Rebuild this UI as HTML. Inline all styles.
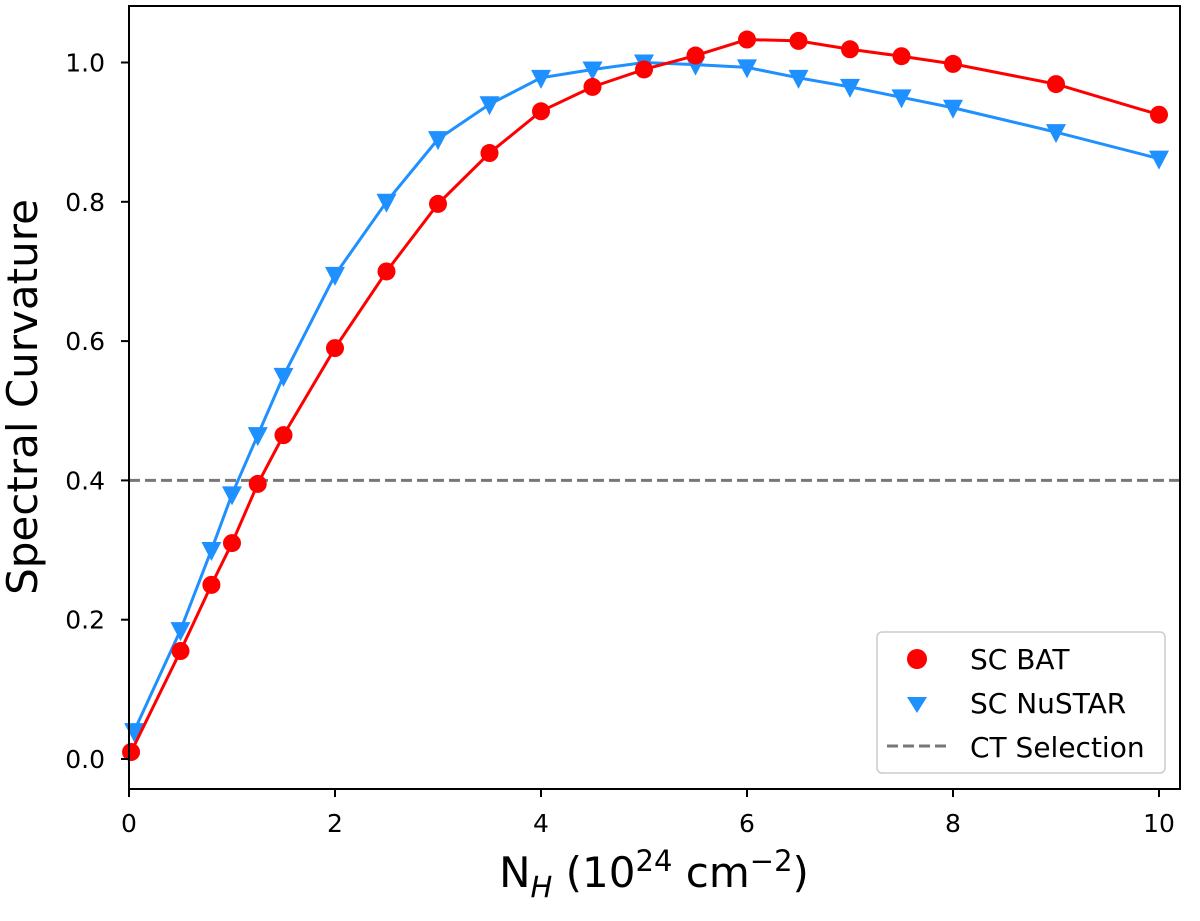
<!DOCTYPE html>
<html><head><meta charset="utf-8"><style>
body{margin:0;background:#fff}
svg text{font-family:"DejaVu Sans","Liberation Sans",sans-serif;fill:#000}
</style></head><body>
<svg id="c" width="1200" height="916" xmlns="http://www.w3.org/2000/svg"></svg>
<script>
const batX=[0.02,0.5,0.8,1.0,1.25,1.5,2,2.5,3,3.5,4,4.5,5,5.5,6,6.5,7,7.5,8,9,10];
const batY=[0.01,0.155,0.25,0.31,0.395,0.465,0.59,0.70,0.797,0.87,0.93,0.965,0.99,1.01,1.033,1.031,1.019,1.009,0.998,0.969,0.925];
const nuX=[0.05,0.5,0.8,1.0,1.25,1.5,2,2.5,3,3.5,4,4.5,5,5.5,6,6.5,7,7.5,8,9,10];
const nuY=[0.04,0.185,0.30,0.38,0.465,0.55,0.695,0.80,0.89,0.94,0.978,0.99,1.0,0.997,0.993,0.978,0.965,0.95,0.935,0.90,0.862];
const xTicks=[0,2,4,6,8,10];
const yTicks=[0.0,0.2,0.4,0.6,0.8,1.0];
const ctLevel=0.4;
const NS='http://www.w3.org/2000/svg';
const svg=document.getElementById('c');
const L=129,R=1180,T=6,B=789;
const sx=v=>129+v*103.0;
const sy=v=>759-v*696.5;
function mk(t,a,p){const e=document.createElementNS(NS,t);for(const k in a)e.setAttribute(k,a[k]);(p||svg).appendChild(e);return e;}
let ct=mk('line',{x1:L,x2:R,y1:sy(ctLevel),y2:sy(ctLevel),stroke:'#777','stroke-width':3,'stroke-dasharray':'11,5'});


function series(xs,ys,color,name,shape){
  const g=mk('g',{});
  
  
  mk('polyline',{points:xs.map((x,i)=>sx(x)+','+sy(ys[i])).join(' '),fill:'none',stroke:color,'stroke-width':3},g);
  xs.forEach((x,i)=>{
    const cx=sx(x),cy=sy(ys[i]);let m;
    if(shape==='c')m=mk('circle',{cx:cx,cy:cy,r:9,fill:color},g);
    else m=mk('polygon',{points:`${cx-10},${cy-8} ${cx+10},${cy-8} ${cx},${cy+11}`,fill:color},g);
    
    
  });
}
series(nuX,nuY,'#1e90ff','sc-nustar-series','t');
series(batX,batY,'#ff0000','sc-bat-series','c');
let fr=mk('rect',{x:L,y:T,width:R-L,height:B-T,fill:'none',stroke:'#000','stroke-width':2});


xTicks.forEach(v=>{
  mk('line',{x1:sx(v),x2:sx(v),y1:B,y2:B+8,stroke:'#000','stroke-width':2});
  const t=mk('text',{x:sx(v),y:B+43,'font-size':25,'text-anchor':'middle'});t.textContent=v;
  
  
});
yTicks.forEach(v=>{
  mk('line',{x1:L-8,x2:L,y1:sy(v),y2:sy(v),stroke:'#000','stroke-width':2});
  const t=mk('text',{x:L-24,y:sy(v)+9,'font-size':25,'text-anchor':'end'});t.textContent=v.toFixed(1);
  
  
});
</script>
<svg width="1200" height="916" style="position:absolute;left:0;top:0" xmlns="http://www.w3.org/2000/svg">
<text x="654" y="887" font-size="42" text-anchor="middle">N<tspan font-size="29" dy="10" font-style="italic">H</tspan><tspan dy="-10"> (10</tspan><tspan font-size="29" dy="-16">24</tspan><tspan dy="16"> cm</tspan><tspan font-size="29" dy="-16">−2</tspan><tspan dy="16">)</tspan></text>
<text transform="translate(37,397) rotate(-90)" font-size="42" text-anchor="middle">Spectral Curvature</text>
<g>
<rect x="877" y="632" width="288" height="141" rx="5" fill="#fff" fill-opacity="0.85" stroke="#ccc" stroke-width="1.5"/>
<circle cx="917" cy="659" r="10" fill="#ff0000"/>
<polygon points="907,697 927,697 917,713" fill="#1e90ff"/>
<line x1="887" y1="746" x2="947" y2="746" stroke="#777" stroke-width="3" stroke-dasharray="11,5"/>
<text x="970" y="669" font-size="28">SC BAT</text>
<text x="970" y="713" font-size="28">SC NuSTAR</text>
<text x="970" y="757" font-size="28">CT Selection</text>
</g>
</svg>
</body></html>
